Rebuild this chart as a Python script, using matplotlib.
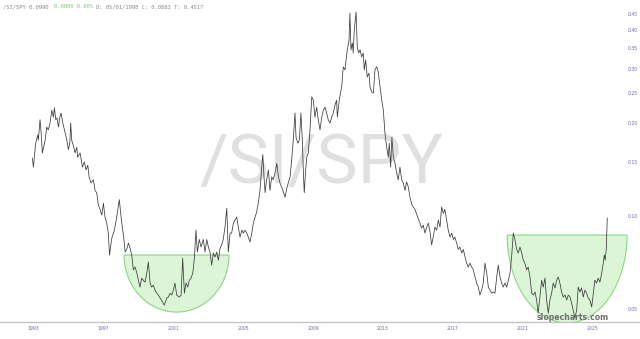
import numpy as np
import matplotlib
matplotlib.use("Agg")
import matplotlib.pyplot as plt
from matplotlib.ticker import NullLocator

# /SI/SPY ratio (decimal year, value)
anos = [
    1992.96, 1993.02, 1993.15, 1993.27, 1993.30, 1993.40, 1993.46, 1993.53, 1993.59, 1993.69,
    1993.78, 1993.87, 1993.97, 1994.07, 1994.16, 1994.22, 1994.30, 1994.37, 1994.45, 1994.53,
    1994.60, 1994.70, 1994.83, 1994.93, 1995.02, 1995.10, 1995.15, 1995.21, 1995.33, 1995.40,
    1995.50, 1995.55, 1995.69, 1995.82, 1995.93, 1996.03, 1996.13, 1996.20, 1996.31, 1996.45,
    1996.54, 1996.64, 1996.73, 1996.83, 1996.93, 1997.02, 1997.11, 1997.21, 1997.30, 1997.37,
    1997.50, 1997.65, 1997.78, 1997.93, 1998.03, 1998.10, 1998.18, 1998.26, 1998.35, 1998.45,
    1998.54, 1998.64, 1998.73, 1998.83, 1998.93, 1999.02, 1999.11, 1999.21, 1999.30, 1999.40,
    1999.50, 1999.59, 1999.69, 1999.78, 1999.87, 1999.97, 2000.07, 2000.16, 2000.26, 2000.41,
    2000.50, 2000.64, 2000.73, 2000.83, 2000.93, 2001.02, 2001.11, 2001.21, 2001.36, 2001.46,
    2001.55, 2001.65, 2001.74, 2001.84, 2001.93, 2002.03, 2002.13, 2002.22, 2002.31, 2002.39,
    2002.50, 2002.60, 2002.73, 2002.83, 2002.93, 2003.02, 2003.11, 2003.21, 2003.30, 2003.40,
    2003.50, 2003.59, 2003.69, 2003.78, 2003.87, 2003.97, 2004.07, 2004.16, 2004.26, 2004.35,
    2004.45, 2004.54, 2004.64, 2004.73, 2004.83, 2004.93, 2005.02, 2005.11, 2005.21, 2005.30,
    2005.40, 2005.50, 2005.59, 2005.69, 2005.78, 2005.87, 2005.97, 2006.07, 2006.13, 2006.20,
    2006.26, 2006.35, 2006.45, 2006.54, 2006.64, 2006.73, 2006.83, 2006.93, 2007.02, 2007.11,
    2007.21, 2007.30, 2007.40, 2007.50, 2007.59, 2007.69, 2007.78, 2007.87, 2007.97, 2008.03,
    2008.13, 2008.22, 2008.31, 2008.39, 2008.45, 2008.50, 2008.58, 2008.64, 2008.73, 2008.83,
    2008.93, 2009.02, 2009.11, 2009.21, 2009.30, 2009.40, 2009.50, 2009.59, 2009.69, 2009.78,
    2009.87, 2009.97, 2010.07, 2010.16, 2010.26, 2010.35, 2010.39, 2010.50, 2010.64, 2010.73,
    2010.83, 2010.89, 2010.96, 2011.06, 2011.11, 2011.17, 2011.25, 2011.30, 2011.36, 2011.46,
    2011.53, 2011.61, 2011.69, 2011.78, 2011.87, 2011.93, 2012.01, 2012.10, 2012.20, 2012.26,
    2012.35, 2012.45, 2012.54, 2012.64, 2012.73, 2012.83, 2012.93, 2013.02, 2013.11, 2013.21,
    2013.30, 2013.36, 2013.44, 2013.51, 2013.59, 2013.69, 2013.78, 2013.87, 2013.97, 2014.07,
    2014.16, 2014.26, 2014.35, 2014.45, 2014.54, 2014.66, 2014.83, 2015.00, 2015.11, 2015.21,
    2015.30, 2015.40, 2015.50, 2015.59, 2015.69, 2015.78, 2015.87, 2015.97, 2016.07, 2016.16,
    2016.26, 2016.35, 2016.45, 2016.54, 2016.64, 2016.73, 2016.83, 2016.93, 2017.02, 2017.11,
    2017.21, 2017.30, 2017.40, 2017.50, 2017.59, 2017.69, 2017.78, 2017.87, 2017.97, 2018.07,
    2018.16, 2018.26, 2018.35, 2018.45, 2018.54, 2018.64, 2018.73, 2018.83, 2018.93, 2019.02,
    2019.11, 2019.21, 2019.30, 2019.40, 2019.50, 2019.59, 2019.69, 2019.78, 2019.87, 2019.97,
    2020.07, 2020.16, 2020.26, 2020.35, 2020.45, 2020.54, 2020.64, 2020.73, 2020.83, 2020.93,
    2021.02, 2021.11, 2021.21, 2021.30, 2021.40, 2021.50, 2021.59, 2021.69, 2021.78, 2021.87,
    2021.97, 2022.07, 2022.16, 2022.26, 2022.35, 2022.45, 2022.54, 2022.64, 2022.73, 2022.83,
    2022.93, 2023.02, 2023.11, 2023.21, 2023.30, 2023.40, 2023.50, 2023.59, 2023.69, 2023.78,
    2023.87, 2023.97, 2024.07, 2024.16, 2024.26, 2024.35, 2024.45, 2024.54, 2024.64, 2024.73,
    2024.83, 2024.93, 2025.02, 2025.11, 2025.21, 2025.30, 2025.40, 2025.50, 2025.59, 2025.65,
    2025.70, 2025.76, 2025.82,
]
valores = [
    0.154, 0.144, 0.172, 0.183, 0.176, 0.205, 0.186, 0.160, 0.166, 0.176,
    0.194, 0.190, 0.200, 0.220, 0.209, 0.224, 0.205, 0.2076, 0.194, 0.209,
    0.2155, 0.200, 0.186, 0.176, 0.164, 0.172, 0.200, 0.176, 0.167, 0.160,
    0.167, 0.155, 0.160, 0.144, 0.1496, 0.141, 0.146, 0.134, 0.128, 0.131,
    0.121, 0.119, 0.1085, 0.105, 0.1007, 0.110, 0.0993, 0.0949, 0.0881, 0.0748,
    0.0849, 0.090, 0.0993, 0.113, 0.0993, 0.0921, 0.0855, 0.0765, 0.078, 0.0818,
    0.0788, 0.0748, 0.067, 0.0684, 0.0654, 0.062, 0.0589, 0.0630, 0.062, 0.0611,
    0.0654, 0.0710, 0.0607, 0.0589, 0.0598, 0.0576, 0.0563, 0.0555, 0.0543, 0.0527,
    0.0515, 0.0543, 0.0547, 0.0563, 0.0555, 0.0576, 0.0607, 0.0555, 0.0547, 0.0555,
    0.0731, 0.0563, 0.0607, 0.0589, 0.062, 0.0630, 0.0654, 0.0731, 0.090, 0.0765,
    0.084, 0.0794, 0.084, 0.0765, 0.084, 0.0794, 0.0765, 0.0694, 0.0759, 0.0737,
    0.0765, 0.072, 0.0788, 0.0806, 0.084, 0.0921, 0.106, 0.0765, 0.0881, 0.0881,
    0.0949, 0.097, 0.0993, 0.0921, 0.0855, 0.090, 0.0881, 0.090, 0.0881, 0.0855,
    0.0824, 0.0881, 0.0949, 0.0993, 0.103, 0.110, 0.121, 0.144, 0.158, 0.134,
    0.119, 0.131, 0.141, 0.121, 0.134, 0.131, 0.138, 0.148, 0.134, 0.128,
    0.124, 0.120, 0.115, 0.123, 0.128, 0.134, 0.152, 0.176, 0.2155, 0.180,
    0.172, 0.176, 0.2155, 0.176, 0.138, 0.119, 0.141, 0.155, 0.160, 0.190,
    0.243, 0.237, 0.209, 0.225, 0.205, 0.190, 0.209, 0.220, 0.225, 0.2155,
    0.205, 0.200, 0.209, 0.2155, 0.229, 0.237, 0.209, 0.237, 0.262, 0.304,
    0.297, 0.320, 0.345, 0.371, 0.454, 0.345, 0.363, 0.337, 0.400, 0.457,
    0.352, 0.337, 0.345, 0.327, 0.337, 0.297, 0.320, 0.282, 0.290, 0.262,
    0.252, 0.250, 0.297, 0.304, 0.2925, 0.262, 0.237, 0.220, 0.186, 0.167,
    0.155, 0.172, 0.144, 0.180, 0.155, 0.148, 0.138, 0.131, 0.144, 0.131,
    0.128, 0.121, 0.129, 0.124, 0.115, 0.1085, 0.105, 0.0985, 0.0949, 0.0914,
    0.0935, 0.0881, 0.0921, 0.0949, 0.0888, 0.0806, 0.0855, 0.0921, 0.090, 0.097,
    0.0921, 0.107, 0.102, 0.105, 0.097, 0.090, 0.0855, 0.0881, 0.084, 0.0855,
    0.0818, 0.078, 0.0794, 0.0759, 0.078, 0.0737, 0.0704, 0.0684, 0.0704, 0.0684,
    0.067, 0.0635, 0.0607, 0.0589, 0.0555, 0.0576, 0.0607, 0.0704, 0.0654, 0.0589,
    0.0576, 0.0563, 0.0568, 0.0563, 0.0635, 0.0694, 0.0635, 0.0607, 0.0589, 0.0607,
    0.0589, 0.062, 0.0654, 0.0737, 0.0881, 0.084, 0.078, 0.0759, 0.0794, 0.0759,
    0.072, 0.0704, 0.067, 0.0684, 0.0635, 0.0563, 0.0555, 0.0568, 0.0535, 0.0485,
    0.0547, 0.062, 0.0589, 0.0630, 0.0535, 0.0485, 0.0535, 0.0563, 0.0607, 0.0585,
    0.062, 0.0635, 0.0607, 0.0568, 0.0547, 0.0555, 0.0535, 0.0555, 0.0547, 0.0523,
    0.0496, 0.0468, 0.0496, 0.0589, 0.0568, 0.0585, 0.0547, 0.0576, 0.0563, 0.0543,
    0.0535, 0.0508, 0.0563, 0.062, 0.0607, 0.0630, 0.0611, 0.0654, 0.0704, 0.0748,
    0.072, 0.078, 0.0985,
]

anos_ticks = [1993, 1997, 2001, 2005, 2009, 2013, 2017, 2021, 2025]
valores_ticks = [0.05, 0.10, 0.15, 0.20, 0.25, 0.30, 0.35, 0.40, 0.45]

# the two "bowl" shapes: (start year, end year, rim value, bottom value)
tacas = [(1998.2, 2004.2, 0.0748, 0.0489), (2020.1, 2026.95, 0.0868, 0.0451)]

fig = plt.figure(figsize=(6.4, 3.39), dpi=100)
ax = fig.add_axes([0, 0.05, 1, 0.95])
ax.set_yscale("log")

# watermark behind everything
ax.text(0.502, 0.515, "/SI/SPY", transform=fig.transFigure, ha="center", va="center",
        fontsize=50, color="#e0e0e0", family="Roboto", zorder=0)

for x0, x1, topo, fundo in tacas:
    t = np.linspace(0, np.pi, 120)
    cx = (x0 + x1) / 2
    a = (x1 - x0) / 2
    d = np.log10(topo) - np.log10(fundo)
    xs = cx + a * np.cos(t)
    ys = 10 ** (np.log10(topo) - d * np.sin(t))
    ax.fill(xs, ys, facecolor="#dcf5d7", edgecolor="#8ed38a", lw=0.8, zorder=1)

ax.plot(anos, valores, color="#3a3a3a", lw=0.55, zorder=2)

ax.set_xlim(1991.11, 2027.69)
ax.set_ylim(0.0454, 0.5)
ax.set_xticks(anos_ticks)
ax.set_xticklabels([str(a) for a in anos_ticks])
ax.set_yticks(valores_ticks)
ax.set_yticklabels([f"{v:.2f}" for v in valores_ticks])
ax.yaxis.set_minor_locator(NullLocator())
ax.yaxis.tick_right()
ax.tick_params(axis="y", length=0, pad=-8.6, labelsize=3.3, labelcolor="#6b6ba8")
ax.tick_params(axis="x", length=0, pad=3, labelsize=3.3, labelcolor="#6b6ba8")

for s in ["left", "right", "top"]:
    ax.spines[s].set_visible(False)
ax.spines["bottom"].set_color("#c4c4c4")
ax.spines["bottom"].set_linewidth(1.0)

# header line
cab = dict(family="DejaVu Sans Mono", fontsize=4.0, va="center")
fig.text(3 / 640, 1 - 7 / 339, "/SI/SPY 0.0990", color="#8a8a8a", **cab)
fig.text(53.5 / 640, 1 - 7 / 339, "0.0000 0.00%", color="#7cc47c", **cab)
fig.text(96 / 640, 1 - 7 / 339, "D: 05/01/1998 C: 0.0883 T: 0.4517", color="#8a8a8a", **cab)

fig.text(573 / 640, 1 - 317 / 339, "slopecharts.com", ha="center", va="center",
         fontsize=5.6, fontweight="bold", color="#6e6e6e")

fig.savefig("out.png", dpi=100)
